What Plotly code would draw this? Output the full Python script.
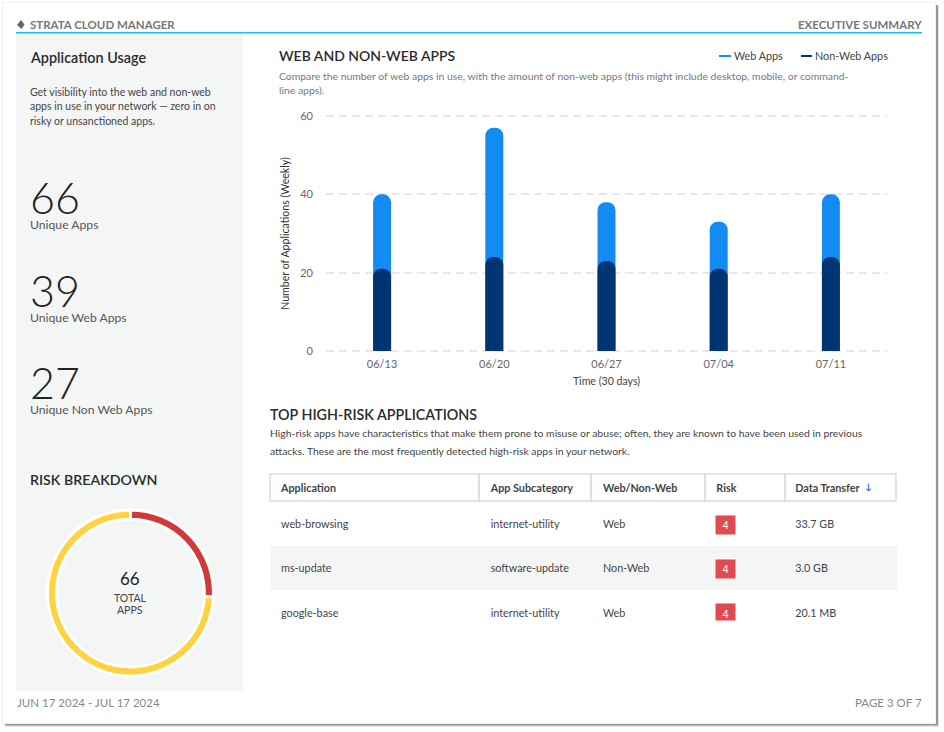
import plotly.graph_objects as go

W, H = 944, 732
FONT = "Lato"

# chart values
weeks = ["06/13", "06/20", "06/27", "07/04", "07/11"]
web_apps = [40, 57, 38, 33, 40]
non_web_apps = [21, 24, 23, 21, 24]
y_ticks = [0, 20, 40, 60]

risk_labels = ["High", "Medium"]
risk_values = [17, 49]

# table
table_columns = ["Application", "App Subcategory", "Web/Non-Web", "Risk", "Data Transfer"]
apps = ["web-browsing", "ms-update", "google-base"]
subcategories = ["internet-utility", "software-update", "internet-utility"]
app_types = ["Web", "Non-Web", "Web"]
risks = ["4", "4", "4"]
transfers = ["33.7 GB", "3.0 GB", "20.1 MB"]

# left panel stats
stat_values = ["66", "39", "27"]
stat_labels = ["Unique Apps", "Unique Web Apps", "Unique Non Web Apps"]

col_edges = [270, 479, 591, 705, 785, 896]


def px(x):
    return x / W


def py(y):
    return 1 - y / H


def label(x, y, text, size=11, color="#555", anchor="left", weight=None, **kw):
    font = dict(family=FONT, size=size, color=color)
    if weight:
        font["weight"] = weight
    # annotations carry about 1px of padding on the anchored side
    nudge = {"left": -1, "right": 1, "center": 0}[anchor]
    return dict(xref="paper", yref="paper", x=px(x + nudge), y=py(y), text=text, showarrow=False,
                xanchor=anchor, yanchor="middle", font=font, borderpad=0, **kw)


def rect(x0, y0, x1, y1, fill, layer="below", opacity=1, line=None):
    return dict(type="rect", xref="paper", yref="paper", x0=px(x0), x1=px(x1), y0=py(y0), y1=py(y1),
                fillcolor=fill, line=line or dict(width=0), layer=layer, opacity=opacity)


fig = go.Figure()

fig.add_trace(go.Bar(x=weeks, y=web_apps, name="Web Apps", marker=dict(color="#138bf2", line_width=0), width=0.16))
# second subplot so plotly rounds the shorter bar too
fig.add_trace(go.Bar(x=weeks, y=non_web_apps, name="Non-Web Apps", marker=dict(color="#003473", line_width=0),
                     width=0.16, xaxis="x2", yaxis="y2"))

fig.add_trace(go.Pie(
    labels=risk_labels, values=risk_values, hole=0.89, sort=False, direction="clockwise", rotation=0,
    marker=dict(colors=["#d13a3a", "#ffd33f"], line=dict(color="white", width=3)),
    textinfo="none", domain=dict(x=[px(47.5), px(213.5)], y=[py(676), py(510)]), showlegend=False,
))

# table text sits near the top of each cell, so the fills and borders are shapes
fig.add_trace(go.Table(
    columnwidth=[210, 112.5, 113.5, 79, 111],
    domain=dict(x=[px(273), px(899)], y=[py(660), py(472.5)]),
    header=dict(values=[f"<b>{c}</b>" for c in table_columns], height=39, align="left",
                fill_color="rgba(0,0,0,0)", line=dict(color="rgba(0,0,0,0)", width=0),
                font=dict(family=FONT, size=10.8, color="#444")),
    cells=dict(values=[apps, subcategories, app_types, ["", "", ""], transfers], height=44.5, align="left",
               fill_color="rgba(0,0,0,0)", line=dict(color="rgba(0,0,0,0)", width=0),
               font=dict(family=FONT, size=10.8, color="#444")),
))

shapes = [
    rect(5, 6, 939, 727, "#d0d0d0", opacity=0.6),
    rect(5, 5, 938, 725.5, "#8a8a8a", opacity=0.85),
    rect(2, 2, 936, 724, "#f1f1f1"),
    rect(3, 3, 935, 723, "white"),
    rect(16, 33, 243, 691, "#f4f6f6"),
    rect(16, 32, 922, 33.5, "#12c0ea"),
    rect(719, 55, 731, 57, "#138bf2"),
    rect(801, 55, 812, 57, "#003473"),
    rect(270, 546, 897, 590, "#f4f6f6"),
    dict(type="path", xref="paper", yref="paper", layer="above", fillcolor="#666", line_width=0,
         path=f"M {px(21)} {py(20)} L {px(24.5)} {py(24.5)} L {px(21.5)} {py(29)} L {px(17)} {py(25)} Z"),
]
for left, right in zip(col_edges[:-1], col_edges[1:]):
    shapes.append(rect(left, 474, right, 501, "rgba(0,0,0,0)", line=dict(color="#dddddd", width=1.5)))

annotations = [
    label(30, 24.5, "<b>STRATA CLOUD MANAGER</b>", size=11.5, color="#777"),
    label(922, 24.5, "<b>EXECUTIVE SUMMARY</b>", size=11.5, color="#777", anchor="right"),
    label(30, 58, "Application Usage", size=14.4, color="#2b2b2b", weight=600),
    label(30, 91.5, "Get visibility into the web and non-web", size=10.5, color="#444"),
    label(30, 106.5, "apps in use in your network — zero in on", size=10.5, color="#444"),
    label(30, 121, "risky or unsanctioned apps.", size=10.5, color="#444"),
    label(30, 480, "RISK BREAKDOWN", size=14.2, color="#2b2b2b", weight=600),
    label(130, 578, "66", size=17, color="#222", anchor="center"),
    label(130, 598, "TOTAL", size=10.5, color="#444", anchor="center"),
    label(130, 610, "APPS", size=10.5, color="#444", anchor="center"),
    label(279, 56, "WEB AND NON-WEB APPS", size=14, color="#2b2b2b", weight=600),
    label(279, 76, "Compare the number of web apps in use, with the amount of non-web apps (this might include desktop, mobile, or command-", size=10.4, color="#777"),
    label(279, 90, "line apps).", size=10.4, color="#777"),
    label(734, 56, "Web Apps", size=10.8, color="#444"),
    label(815, 56, "Non-Web Apps", size=10.8, color="#444"),
    label(270, 414, "TOP HIGH-RISK APPLICATIONS", size=14.3, color="#2b2b2b", weight=600),
    label(270, 433, "High-risk apps have characteristics that make them prone to misuse or abuse; often, they are known to have been used in previous", size=10.4, color="#444"),
    label(270, 451, "attacks. These are the most frequently detected high-risk apps in your network.", size=10.4, color="#444"),
    label(17, 702, "JUN 17 2024 - JUL 17 2024", size=11.5, color="#888"),
    label(922, 702, "PAGE 3 OF 7", size=11.5, color="#888", anchor="right"),
    label(868.5, 486.5, "<b>↓</b>", size=9, color="#1f6fd6", anchor="center"),
]

for y_val, y_lab, val, lab in zip([198, 290, 382], [225, 317, 409], stat_values, stat_labels):
    annotations.append(label(30, y_val, val, size=43, color="#222", weight=300))
    annotations.append(label(30, y_lab, lab, size=12.2, color="#555"))

for y_mid, risk in zip([525, 569], risks):
    annotations.append(label(725.5, y_mid, risk, size=10.5, color="white", anchor="center",
                             bgcolor="#e04b50", width=19, height=18))
annotations.append(label(725.5, 612, risks[2], size=10.5, color="white", anchor="center",
                         bgcolor="#e04b50", width=19, height=16, valign="bottom"))

# range runs past 0 and 60 so that the end gridlines are kept
y_range = [-1, 61]
x_domain = [px(326), px(887)]
y_domain = [py(354.9), py(112.1)]

fig.update_layout(
    width=W, height=H, margin=dict(l=0, r=0, t=0, b=0, pad=0),
    paper_bgcolor="white", plot_bgcolor="rgba(0,0,0,0)",
    barmode="overlay", barcornerradius=9, showlegend=False,
    font=dict(family=FONT, size=11, color="#555"),
    shapes=shapes, annotations=annotations,
    xaxis=dict(domain=x_domain, type="category", showgrid=False, showline=False, zeroline=False, automargin=False,
               ticks="", ticklabelstandoff=1, tickfont=dict(family=FONT, size=11, color="#666"),
               title=dict(text="Time (30 days)", font=dict(family=FONT, size=10.6, color="#444"), standoff=8)),
    yaxis=dict(domain=y_domain, range=y_range, tickvals=y_ticks, zeroline=False, showline=False, automargin=False,
               gridcolor="#e8e8e8", griddash="8px,5px", gridwidth=1.5, ticks="", ticklabelstandoff=12,
               tickfont=dict(family=FONT, size=11, color="#666"),
               title=dict(text="Number of Applications (Weekly)", font=dict(family=FONT, size=10.6, color="#333"), standoff=8)),
    xaxis2=dict(domain=x_domain, type="category", overlaying="x", visible=False, matches="x"),
    yaxis2=dict(domain=y_domain, range=y_range, overlaying="y", visible=False),
)

fig.write_html("out.html", config=dict(displayModeBar=False), post_script="document.body.style.margin='0';")
